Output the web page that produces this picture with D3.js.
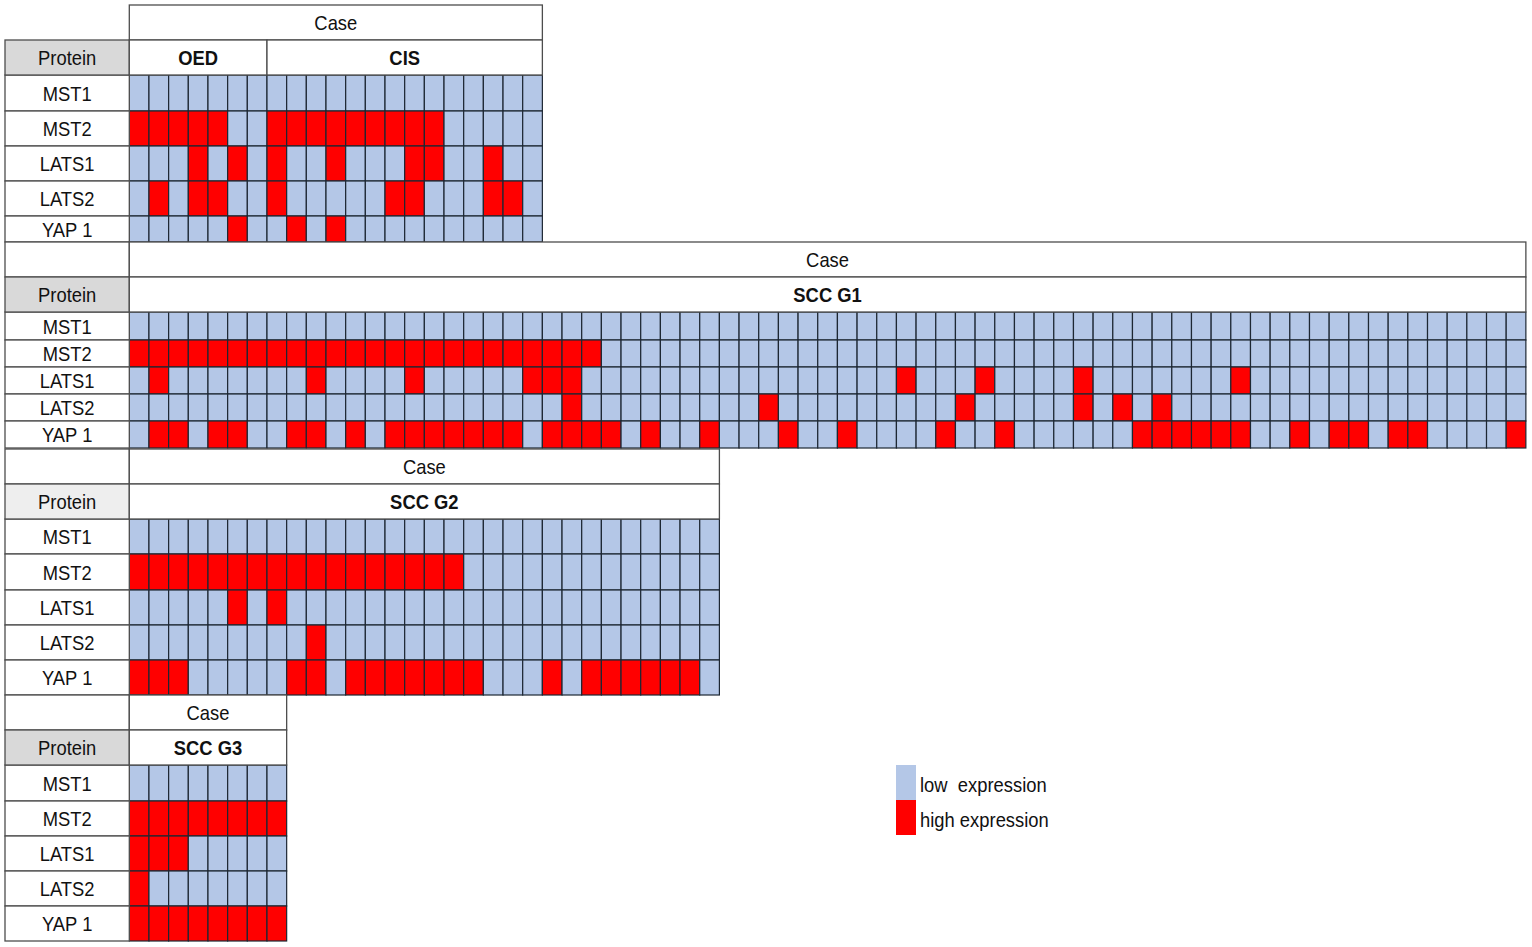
<!DOCTYPE html>
<html>
<head>
<meta charset="utf-8">
<script src="https://cdn.jsdelivr.net/npm/d3@7/dist/d3.min.js"></script>
<style>
    html, body { margin: 0; padding: 0; background: #fff; }
    svg { display: block; }
    text { font-family: "Liberation Sans", Arial, sans-serif; font-size: 20px; fill: #111; }
    .bold { font-weight: bold; }
</style>
</head>
<body>
<svg id="chart" width="1532" height="947"></svg>
<script>
/* data */
const proteins = ['MST1', 'MST2', 'LATS1', 'LATS2', 'YAP 1'];
const caseTitle = 'Case';
const rowTitle = 'Protein';

// 1 = high expression, 0 = low expression, one array per protein
const oedCisGroups = [{name: 'OED', n: 7}, {name: 'CIS', n: 14}];
const oedCisLevels = [
    [0,0,0,0,0,0,0, 0,0,0,0,0,0,0,0,0,0,0,0,0,0],
    [1,1,1,1,1,0,0, 1,1,1,1,1,1,1,1,1,0,0,0,0,0],
    [0,0,0,1,0,1,0, 1,0,0,1,0,0,0,1,1,0,0,1,0,0],
    [0,1,0,1,1,0,0, 1,0,0,0,0,0,1,1,0,0,0,1,1,0],
    [0,0,0,0,0,1,0, 0,1,0,1,0,0,0,0,0,0,0,0,0,0]
];

const sccG1Groups = [{name: 'SCC G1', n: 71}];
const sccG1Levels = [
    [0,0,0,0,0,0,0,0,0,0, 0,0,0,0,0,0,0,0,0,0, 0,0,0,0,0,0,0,0,0,0, 0,0,0,0,0,0,0,0,0,0,
     0,0,0,0,0,0,0,0,0,0, 0,0,0,0,0,0,0,0,0,0, 0,0,0,0,0,0,0,0,0,0, 0],
    [1,1,1,1,1,1,1,1,1,1, 1,1,1,1,1,1,1,1,1,1, 1,1,1,1,0,0,0,0,0,0, 0,0,0,0,0,0,0,0,0,0,
     0,0,0,0,0,0,0,0,0,0, 0,0,0,0,0,0,0,0,0,0, 0,0,0,0,0,0,0,0,0,0, 0],
    [0,1,0,0,0,0,0,0,0,1, 0,0,0,0,1,0,0,0,0,0, 1,1,1,0,0,0,0,0,0,0, 0,0,0,0,0,0,0,0,0,1,
     0,0,0,1,0,0,0,0,1,0, 0,0,0,0,0,0,1,0,0,0, 0,0,0,0,0,0,0,0,0,0, 0],
    [0,0,0,0,0,0,0,0,0,0, 0,0,0,0,0,0,0,0,0,0, 0,0,1,0,0,0,0,0,0,0, 0,0,1,0,0,0,0,0,0,0,
     0,0,1,0,0,0,0,0,1,0, 1,0,1,0,0,0,0,0,0,0, 0,0,0,0,0,0,0,0,0,0, 0],
    [0,1,1,0,1,1,0,0,1,1, 0,1,0,1,1,1,1,1,1,1, 0,1,1,1,1,0,1,0,0,1, 0,0,0,1,0,0,1,0,0,0,
     0,1,0,0,1,0,0,0,0,0, 0,1,1,1,1,1,1,0,0,1, 0,1,1,0,1,1,0,0,0,0, 1]
];

const sccG2Groups = [{name: 'SCC G2', n: 30}];
const sccG2Levels = [
    [0,0,0,0,0,0,0,0,0,0, 0,0,0,0,0,0,0,0,0,0, 0,0,0,0,0,0,0,0,0,0],
    [1,1,1,1,1,1,1,1,1,1, 1,1,1,1,1,1,1,0,0,0, 0,0,0,0,0,0,0,0,0,0],
    [0,0,0,0,0,1,0,1,0,0, 0,0,0,0,0,0,0,0,0,0, 0,0,0,0,0,0,0,0,0,0],
    [0,0,0,0,0,0,0,0,0,1, 0,0,0,0,0,0,0,0,0,0, 0,0,0,0,0,0,0,0,0,0],
    [1,1,1,0,0,0,0,0,1,1, 0,1,1,1,1,1,1,1,0,0, 0,1,0,1,1,1,1,1,1,0]
];

const sccG3Groups = [{name: 'SCC G3', n: 8}];
const sccG3Levels = [
    [0,0,0,0,0,0,0,0],
    [1,1,1,1,1,1,1,1],
    [1,1,1,0,0,0,0,0],
    [1,0,0,0,0,0,0,0],
    [1,1,1,1,1,1,1,1]
];

const legendLabels = ['low  expression', 'high expression'];

/* layout */
const colors = ['#b4c7e7', '#ff0000'];
const labelLeft = 5, labelRight = 129.3, cellW = 19.67;
const gridStroke = '#1d2733', headStroke = '#4d4d4d';
const textScale = 0.92;

// row edges: Case header, group header, then one row per protein
const blocks = [
    {groups: oedCisGroups, levels: oedCisLevels, edges: [5, 40, 75, 111, 146, 181, 216, 242], corner: false, headFill: '#d9d9d9'},
    {groups: sccG1Groups, levels: sccG1Levels, edges: [242, 277, 312, 340, 367, 394, 421, 448], corner: true, headFill: '#d9d9d9'},
    {groups: sccG2Groups, levels: sccG2Levels, edges: [449, 484, 519, 554, 590, 625, 660, 695], corner: true, headFill: '#eeeeee'},
    {groups: sccG3Groups, levels: sccG3Levels, edges: [695, 730, 765, 801, 836, 871, 906, 941], corner: true, headFill: '#d9d9d9'}
];

const svg = d3.select('#chart');

/**
 * 居中文字（横向略压缩，接近原图字形）
 */
function label(g, cx, cy, str, bold) {
    g.append('text')
        .attr('transform', 'translate(' + cx + ',' + cy + ') scale(' + textScale + ',1)')
        .attr('text-anchor', 'middle')
        .attr('dy', '0.38em')
        .classed('bold', !!bold)
        .text(str);
}

function cellBox(g, x0, x1, y0, y1, fill, stroke, sw) {
    g.append('rect')
        .attr('x', x0).attr('y', y0)
        .attr('width', x1 - x0).attr('height', y1 - y0)
        .attr('fill', fill).attr('stroke', stroke).attr('stroke-width', sw);
}

blocks.forEach(function (b) {
    let nCases = d3.sum(b.groups, d => d.n);
    let x = d3.scaleBand().domain(d3.range(nCases))
        .range([labelRight, labelRight + nCases * cellW]).padding(0);
    let y = d3.scaleLinear().domain(d3.range(b.edges.length)).range(b.edges);
    let xEnd = x.range()[1];
    let g = svg.append('g').attr('class', 'block');

    // 数据格子
    let rows = g.append('g').selectAll('g.row').data(b.levels).enter()
        .append('g').attr('class', 'row');
    rows.selectAll('rect').data((d, i) => d.map(v => ({v: v, r: i}))).enter()
        .append('rect')
        .attr('x', (d, j) => x(j))
        .attr('y', d => y(d.r + 2))
        .attr('width', x.bandwidth())
        .attr('height', d => y(d.r + 3) - y(d.r + 2))
        .attr('fill', d => colors[d.v])
        .attr('stroke', gridStroke)
        .attr('stroke-width', 1.2);

    // 蛋白名称列
    proteins.forEach(function (p, i) {
        cellBox(g, labelLeft, labelRight, y(i + 2), y(i + 3), '#fff', headStroke, 1.3);
        label(g, (labelLeft + labelRight) / 2, (y(i + 2) + y(i + 3)) / 2, p);
    });

    // 表头
    if (b.corner) {
        cellBox(g, labelLeft, labelRight, y(0), y(1), '#fff', headStroke, 1.3);
    }
    cellBox(g, labelRight, xEnd, y(0), y(1), '#fff', headStroke, 1.3);
    label(g, (labelRight + xEnd) / 2, (y(0) + y(1)) / 2, caseTitle);

    cellBox(g, labelLeft, labelRight, y(1), y(2), b.headFill, headStroke, 1.3);
    label(g, (labelLeft + labelRight) / 2, (y(1) + y(2)) / 2, rowTitle);

    let start = 0;
    b.groups.forEach(function (grp) {
        let x0 = x(start), x1 = x(start + grp.n - 1) + x.bandwidth();
        cellBox(g, x0, x1, y(1), y(2), '#fff', headStroke, 1.3);
        label(g, (x0 + x1) / 2, (y(1) + y(2)) / 2, grp.name, true);
        start += grp.n;
    });
});

/* legend */
let ly = d3.scaleBand().domain(legendLabels).range([765, 835]);
let legend = svg.append('g').attr('class', 'legend');
legend.selectAll('rect').data(legendLabels).enter().append('rect')
    .attr('x', 896).attr('y', d => ly(d))
    .attr('width', 20).attr('height', ly.bandwidth())
    .attr('fill', (d, i) => colors[i]);
legend.selectAll('text').data(legendLabels).enter().append('text')
    .attr('transform', d => 'translate(920,' + (ly(d) + ly.bandwidth() / 2 + 2) + ') scale(' + textScale + ',1)')
    .attr('dy', '0.38em')
    .style('white-space', 'pre')
    .text(d => d);
</script>
</body>
</html>
